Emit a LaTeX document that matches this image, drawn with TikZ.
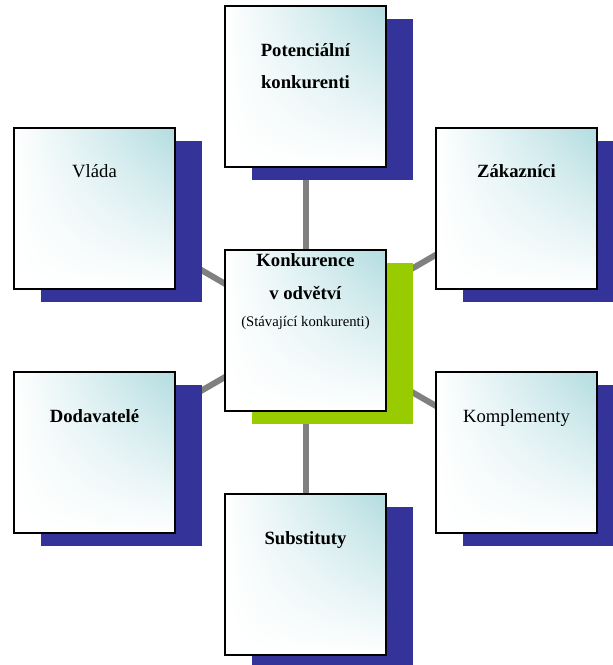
\documentclass[tikz,border=0pt]{standalone}
\usepackage{fontspec}
\setmainfont{Liberation Serif}
\usetikzlibrary{shadows,shadings,positioning,backgrounds}
\definecolor{shadowblue}{RGB}{51,51,153}
\definecolor{coregreen}{RGB}{153,204,0}
\definecolor{boxcyan}{RGB}{178,220,224}
\definecolor{linkgray}{RGB}{128,128,128}

\begin{document}
\begin{tikzpicture}[x=0.75pt,y=-0.75pt]
    \tikzset{force/.style={draw=black, line width=1.5pt, minimum width=120.75pt, minimum height=120.75pt, inner sep=0pt,
        shade, upper right=boxcyan, upper left=white, lower left=white, lower right=white,
        drop shadow={shadow xshift=20.25pt, shadow yshift=-9.75pt, fill=#1, opacity=1}},
        force/.default=shadowblue}
    \tikzstyle{boxtext} = [align=center, inner sep=0pt, font=\fontsize{14pt}{24pt}\selectfont]
    \tikzstyle{link} = [draw=linkgray, line width=4.5pt]

    \useasboundingbox (0,0) rectangle (613,665);

    % Boxes
    \node[force] (pot)   at (305.5,86)    {};
    \node[force] (vlada) at (94.5,208)    {};
    \node[force] (zak)   at (516.5,208)   {};
    \node[force=coregreen] (core) at (305.5,330.5) {};
    \node[force] (dod)   at (94.5,452.5)  {};
    \node[force] (kompl) at (516.5,452.5) {};
    \node[force] (subst) at (305.5,574.5) {};

    % Texts (base = last line)
    \node[boxtext, below=63pt of pot.north, anchor=base] {\textbf{Potenciální}\\\textbf{konkurenti}};
    \node[boxtext, below=38.5pt of vlada.north, anchor=base] {Vláda};
    \node[boxtext, below=38.5pt of zak.north, anchor=base] {\textbf{Zákazníci}};
    \node[boxtext, below=57.75pt of core.north, anchor=base]
        {\textbf{Konkurence}\\[0.75pt]\textbf{v odvětví}\\[-3.75pt]{\fontsize{11pt}{13pt}\selectfont (Stávající konkurenti)}};
    \node[boxtext, below=38.5pt of dod.north, anchor=base] {\textbf{Dodavatelé}};
    \node[boxtext, below=38.5pt of kompl.north, anchor=base] {Komplementy};
    \node[boxtext, below=38.5pt of subst.north, anchor=base] {\textbf{Substituty}};

    % Connectors
    \begin{scope}[on background layer]
        \foreach \f in {pot,vlada,zak,dod,kompl,subst}
            \draw[link] (core.center) -- (\f.center);
    \end{scope}
\end{tikzpicture}
\end{document}
